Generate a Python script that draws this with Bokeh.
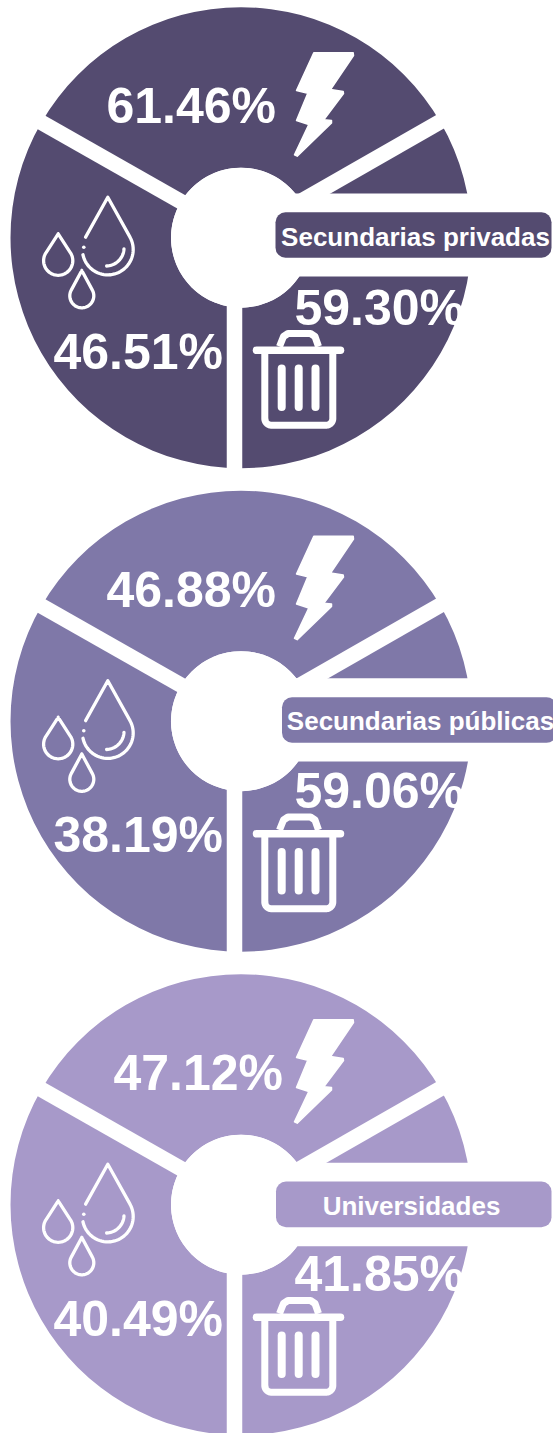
import math
from bokeh.plotting import figure
from bokeh.models import Range1d
from bokeh.core.properties import value
from bokeh.embed import file_html
from bokeh.resources import INLINE

# ---- data ----
groups = ["Secundarias privadas", "Secundarias públicas", "Universidades"]
colors = ["#544B70", "#7F78A8", "#A799C9"]
electricity = ["61.46%", "46.88%", "47.12%"]
waste = ["59.30%", "59.06%", "41.85%"]
water = ["46.51%", "38.19%", "40.49%"]
slice_shares = [1, 1, 1]

# ---- layout (page pixels, y down) ----
W, H = 553, 1433
CX, R, HOLE = 240.5, 230.5, 70
CY = [237.2, 720.7, 1204.2]
SPOKE_W = 15.5
band_top = [193, 677.7, 1162.3]
band_bottom = [276, 761, 1245.7]
pill_top = [211.7, 696.7, 1181]
pill_bottom = [257.3, 742.3, 1226.7]
pill_left = [275, 281.5, 275.5]
pill_right = [551, 556, 551]
label_x = [415, 420, 411]
label_base = [245, 729, 1214]
elec_x = [106, 106, 113]
elec_base = [123, 607, 1090]
waste_base = [325, 808, 1291]
water_base = [369, 852, 1336]
WASTE_X, WATER_X = 294, 53

p = figure(width=W, height=H, output_backend="svg", toolbar_location=None,
           x_range=Range1d(0, W), y_range=Range1d(H, 0),
           min_border=0, outline_line_color=None, background_fill_color="white",
           border_fill_color="white")
p.axis.visible = False
p.grid.visible = False


def drop(cx, cy, r, apex_y, a_from=None, a_to=None, n=40):
    """Tear-drop outline; optional open arc between angles (degrees, y down)."""
    d = cy - apex_y
    half = math.degrees(math.asin(r / d))
    start = -half            # right tangent point
    end = 180 + half         # left tangent point
    if a_to is not None:
        end = a_to
    xs, ys = [], []
    if a_from is not None:
        xs.append(cx + r * math.cos(math.radians(180 + half)))
        ys.append(cy + r * math.sin(math.radians(180 + half)))
    xs.append(cx)
    ys.append(apex_y)
    for i in range(n + 1):
        a = math.radians(start + (end - start) * i / n)
        xs.append(cx + r * math.cos(a))
        ys.append(cy + r * math.sin(a))
    if a_from is None:
        xs.append(cx)
        ys.append(apex_y)
    return xs, ys


def arc(cx, cy, r, a0, a1, n=20):
    xs = [cx + r * math.cos(math.radians(a0 + (a1 - a0) * i / n)) for i in range(n + 1)]
    ys = [cy + r * math.sin(math.radians(a0 + (a1 - a0) * i / n)) for i in range(n + 1)]
    return xs, ys


# icon outlines relative to the pie centre of the first chart
BOLT = [(313.3, 52.3), (352.7, 52.3), (353, 55), (330, 89), (342.7, 91), (343, 93), (323.3, 119.3),
        (331, 120), (331, 122.5), (296.7, 155.7), (294, 154.3), (308.3, 124), (296, 120), (307.3, 92.7), (296, 90)]
TRASH_BODY = arc(271, 418, 6.7, 180, 90)
TRASH_BODY2 = arc(325.6, 418, 6.7, 90, 0)
body_x = [264.3] + TRASH_BODY[0] + TRASH_BODY2[0] + [332.3]
body_y = [353] + TRASH_BODY[1] + TRASH_BODY2[1] + [353]
handle_x = [279, 283, 287.5, 310, 314.5, 318]
handle_y = [346, 336, 333, 333, 336, 346]

for i, group in enumerate(groups):
    cy = CY[i]
    dy = cy - CY[0]
    col = colors[i]
    # slices
    total = sum(slice_shares)
    a = 30.0
    for s in slice_shares:
        a2 = a + 360.0 * s / total
        p.annular_wedge(x=CX, y=cy, inner_radius=HOLE, outer_radius=R,
                        start_angle=math.radians(a), end_angle=math.radians(a2),
                        fill_color=col, line_color=None)
        a = a2
    # gaps between slices
    rr = R + 8
    p.segment(x0=[CX, CX, 234], y0=[cy - 2, cy - 2, cy],
              x1=[CX - rr * math.cos(math.radians(29.6)), CX + rr * math.cos(math.radians(29.8)), 234],
              y1=[cy - 2 - rr * math.sin(math.radians(29.6)), cy - 2 - rr * math.sin(math.radians(29.8)), cy + rr],
              line_color="white", line_width=SPOKE_W)
    # white band behind the label
    p.quad(left=[CX], right=[W + 5], top=[band_top[i]], bottom=[band_bottom[i]],
           fill_color="white", line_color=None)
    p.circle(x=[CX], y=[cy], radius=HOLE, fill_color="white", line_color=None)
    # label pill
    p.quad(left=[pill_left[i]], right=[pill_right[i]], top=[pill_top[i]], bottom=[pill_bottom[i]],
           fill_color=col, line_color=None, border_radius=10)
    p.text(x=[label_x[i]], y=[label_base[i] - 8.3], text=[group], text_align="center", text_baseline="middle",
           text_font=value("Liberation Sans"), text_font_style="bold", text_font_size="26px",
           text_color="white")
    # values
    for tx, ty, txt in ((elec_x[i], elec_base[i], electricity[i]),
                        (WASTE_X, waste_base[i], waste[i]),
                        (WATER_X, water_base[i], water[i])):
        p.text(x=[tx], y=[ty - 18], text=[txt], text_align="left", text_baseline="middle",
               text_font=value("Liberation Sans"), text_font_style="bold", text_font_size="50px",
               text_color="white")
    # bolt icon
    p.patch(x=[q[0] for q in BOLT], y=[q[1] + dy for q in BOLT], fill_color="white",
            line_color="white", line_width=1.5, line_join="round")
    # trash icon
    p.multi_line(xs=[body_x, handle_x], ys=[[v + dy for v in body_y], [v + dy for v in handle_y]],
                 line_color="white", line_width=7, line_join="round")
    p.segment(x0=[256], y0=[349.8 + dy], x1=[340], y1=[349.8 + dy], line_color="white",
              line_width=7.5, line_cap="round")
    p.segment(x0=[281.2, 298.2, 315], y0=[368 + dy] * 3, x1=[281.2, 298.2, 315], y1=[406.5 + dy] * 3,
              line_color="white", line_width=8, line_cap="round")
    # drop icons
    big = drop(107.3, 249, 25.4, 196.7, a_from=True, a_to=168)
    left = drop(57.7, 260.2, 14.6, 233.3)
    low = drop(81.3, 295.3, 12, 270)
    hi = arc(105.5, 247.5, 18, 3, 88)
    xs = [big[0], left[0], low[0], hi[0]]
    ys = [[v + dy for v in big[1]], [v + dy for v in left[1]], [v + dy for v in low[1]], [v + dy for v in hi[1]]]
    p.multi_line(xs=xs, ys=ys, line_color="white", line_width=3.3, line_cap="round", line_join="round")
    p.scatter(x=[83.3], y=[246.7 + dy], size=3.6, marker="circle", fill_color="white", line_color=None)

open("out.html", "w").write(file_html(p, INLINE))
